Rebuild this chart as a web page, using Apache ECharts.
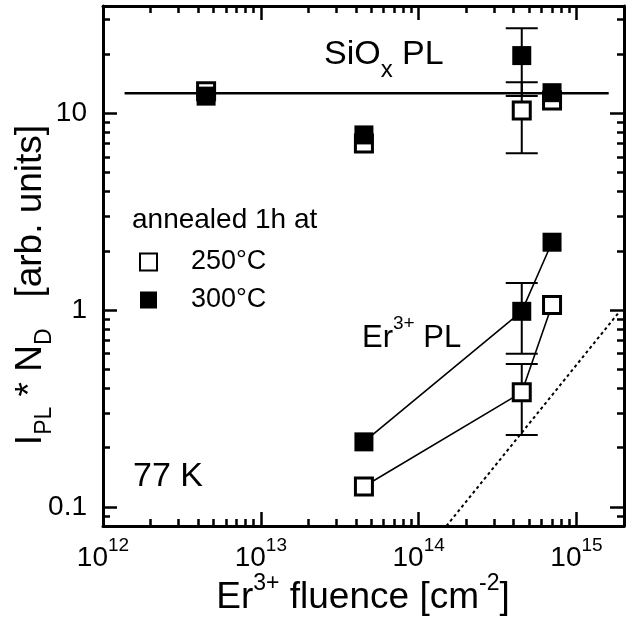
<!DOCTYPE html>
<html>
<head>
<meta charset="utf-8">
<title>PL vs Er fluence</title>
<script src="https://cdn.jsdelivr.net/npm/echarts@6/dist/echarts.min.js"></script>
<style>
  html, body { margin: 0; padding: 0; background: #fff; }
  #chart { width: 635px; height: 626px; }
</style>
</head>
<body>
<div id="chart"></div>
<script>
// fluence of the samples [cm^-2]
const fluence = [4.5e12, 4.5e13, 4.5e14, 7e14]
// SiOx PL
const sioxPL250 = [12.9, 7.0, 10.3, 11.6]
const sioxPL300 = [12.2, 7.75, 19.6, 12.7]
// Er3+ PL
const erFluence = [4.5e13, 4.5e14, 7e14]
const erPL250 = [0.127, 0.382, 1.06]
const erPL300 = [0.214, 0.985, 2.21]
// error bars
const errX = [4.5e14, 4.5e14, 4.5e14, 4.5e14]
const errY = [10.3, 19.6, 0.382, 0.985]
const errSize = [4.05, 7.4, 0.15, 0.385]
// horizontal SiOx level and dotted reference line
const sioxLevel = 12.6
const sioxLineX = [1.37e12, 1.6e15]
const refLineX = [1.5e14, 1.85e15]
const refLineY = [0.08, 0.97]
// ticks
const xMajor = [1e12, 1e13, 1e14, 1e15]
const yMajor = [0.1, 1, 10]
const xMinor = []
for (const d of [1e12, 1e13, 1e14]) {
  for (let k = 2; k <= 9; k++) xMinor.push(k * d)
}
const yMinor = [0.09]
for (const d of [0.1, 1]) {
  for (let k = 2; k <= 9; k++) yMinor.push(k * d)
}
yMinor.push(20, 30)

const font = "'Liberation Sans', Arial, sans-serif"
const black = '#000'

function xAxisOf(position, ticks, len, withLabel) {
  return {
    type: 'log', logBase: 10, min: 1e12, max: 2e15, position: position,
    axisLine: { show: withLabel !== null, onZero: false, lineStyle: { color: black, width: 3 } },
    axisTick: { show: true, inside: true, length: len, customValues: ticks, lineStyle: { color: black, width: 2.5 } },
    axisLabel: withLabel ? {
      show: true, customValues: ticks, margin: 10, color: black, fontFamily: font,
      formatter: function (v) { return '{b|10}{s|' + Math.round(Math.log10(v)) + '}' },
      rich: {
        b: { fontSize: 28, lineHeight: 30, padding: [8, 0, 0, 0], verticalAlign: 'top', fontFamily: font, color: black },
        s: { fontSize: 19, lineHeight: 19, verticalAlign: 'top', fontFamily: font, color: black }
      }
    } : { show: false },
    splitLine: { show: false }
  }
}

function yAxisOf(position, ticks, len, withLabel) {
  return {
    type: 'log', logBase: 10, min: 0.08, max: 35, position: position,
    axisLine: { show: withLabel !== null, onZero: false, lineStyle: { color: black, width: 3 } },
    axisTick: { show: true, inside: true, length: len, customValues: ticks, lineStyle: { color: black, width: 2.5 } },
    axisLabel: withLabel ? {
      show: true, customValues: ticks, margin: 16, color: black, fontSize: 28, fontFamily: font,
      formatter: function (v) { return String(Number(v.toPrecision(2))) }
    } : { show: false },
    splitLine: { show: false }
  }
}

function pairs(xs, ys) {
  return xs.map(function (x, i) { return [x, ys[i]] })
}

const chart = echarts.init(document.getElementById('chart'))

chart.setOption({
  animation: false,
  backgroundColor: '#fff',
  textStyle: { fontFamily: font },
  grid: { left: 103, right: 11, top: 6, bottom: 100, outerBoundsMode: 'none' },
  xAxis: [
    xAxisOf('bottom', xMajor, 14, true),
    xAxisOf('bottom', xMinor, 7, null),
    xAxisOf('top', xMajor, 14, false),
    xAxisOf('top', xMinor, 7, null)
  ],
  yAxis: [
    yAxisOf('left', yMajor, 14, true),
    yAxisOf('left', yMinor, 7, null),
    yAxisOf('right', yMajor, 14, false),
    yAxisOf('right', yMinor, 7, null)
  ],
  legend: {
    orient: 'vertical', left: 134, top: 242,
    itemWidth: 17, itemHeight: 17, itemGap: 8,
    selectedMode: false,
    data: ['250°C', '300°C'],
    textStyle: { fontSize: 27, lineHeight: 30, color: black, fontFamily: font, padding: [0, 0, 0, 29] }
  },
  graphic: [
    {
      type: 'text', x: 132, y: 220,
      style: { text: 'annealed 1h at', fontSize: 28, fontFamily: font, fill: black, verticalAlign: 'middle' }
    },
    {
      type: 'text', x: 324, y: 38,
      style: {
        text: '{m|SiO}{b|x}{m| PL}', fill: black,
        rich: {
          m: { fontSize: 34, lineHeight: 36, verticalAlign: 'top', fontFamily: font, fill: black },
          b: { fontSize: 24, lineHeight: 20, padding: [20, 0, 0, 0], verticalAlign: 'top', fontFamily: font, fill: black }
        }
      }
    },
    {
      type: 'text', x: 362, y: 314,
      style: {
        text: '{m|Er}{p|3+}{m| PL}', fill: black,
        rich: {
          m: { fontSize: 31, lineHeight: 36, padding: [9, 0, 0, 0], verticalAlign: 'top', fontFamily: font, fill: black },
          p: { fontSize: 19, lineHeight: 18, verticalAlign: 'top', fontFamily: font, fill: black }
        }
      }
    },
    {
      type: 'text', x: 133, y: 477,
      style: { text: '77 K', fontSize: 34, fontFamily: font, fill: black, verticalAlign: 'middle' }
    },
    {
      type: 'text', x: 363, y: 572,
      style: {
        text: '{m|Er}{p|3+}{m| fluence [cm}{p|-2}{m|]}', fill: black, align: 'center',
        rich: {
          m: { fontSize: 37, lineHeight: 40, padding: [7, 0, 0, 0], verticalAlign: 'top', fontFamily: font, fill: black },
          p: { fontSize: 23, lineHeight: 22, verticalAlign: 'top', fontFamily: font, fill: black }
        }
      }
    },
    {
      type: 'text', x: 12, y: 285, rotation: Math.PI / 2,
      style: {
        text: '{m|I}{b|PL}{m| * N}{b|D}{m|   [arb. units]}', fill: black, align: 'center',
        rich: {
          m: { fontSize: 37, lineHeight: 40, verticalAlign: 'top', fontFamily: font, fill: black },
          b: { fontSize: 23, lineHeight: 22, padding: [21, 0, 0, 0], verticalAlign: 'top', fontFamily: font, fill: black }
        }
      }
    }
  ],
  series: [
    {
      type: 'line', data: pairs(sioxLineX, [sioxLevel, sioxLevel]),
      symbol: 'none', silent: true, z: 2,
      lineStyle: { color: black, width: 2.5 }
    },
    {
      type: 'line', data: pairs(refLineX, refLineY),
      symbol: 'none', silent: true, z: 2,
      lineStyle: { color: black, width: 2, type: [3, 3] }
    },
    {
      type: 'line', data: pairs(erFluence, erPL250),
      symbol: 'none', silent: true, z: 2,
      lineStyle: { color: black, width: 1.6 }
    },
    {
      type: 'line', data: pairs(erFluence, erPL300),
      symbol: 'none', silent: true, z: 2,
      lineStyle: { color: black, width: 1.6 }
    },
    {
      type: 'custom', z: 3, silent: true,
      data: errX.map(function (x, i) { return [x, errY[i] - errSize[i], errY[i] + errSize[i]] }),
      renderItem: function (params, api) {
        const top = api.coord([api.value(0), api.value(2)])
        const bot = api.coord([api.value(0), api.value(1)])
        const w = 16
        const style = { stroke: black, lineWidth: 2 }
        return {
          type: 'group',
          children: [
            { type: 'line', shape: { x1: top[0], y1: top[1], x2: bot[0], y2: bot[1] }, style: style },
            { type: 'line', shape: { x1: top[0] - w, y1: top[1], x2: top[0] + w, y2: top[1] }, style: style },
            { type: 'line', shape: { x1: bot[0] - w, y1: bot[1], x2: bot[0] + w, y2: bot[1] }, style: style }
          ]
        }
      }
    },
    {
      type: 'scatter', name: '250°C', symbol: 'rect', symbolSize: 17, z: 4,
      itemStyle: { color: '#fff', borderColor: black, borderWidth: 3, opacity: 1 },
      data: pairs(fluence, sioxPL250).concat(pairs(erFluence, erPL250))
    },
    {
      type: 'scatter', name: '300°C', symbol: 'rect', symbolSize: 19, z: 5,
      itemStyle: { color: black, opacity: 1 },
      data: pairs(fluence, sioxPL300).concat(pairs(erFluence, erPL300))
    }
  ]
})
</script>
</body>
</html>
